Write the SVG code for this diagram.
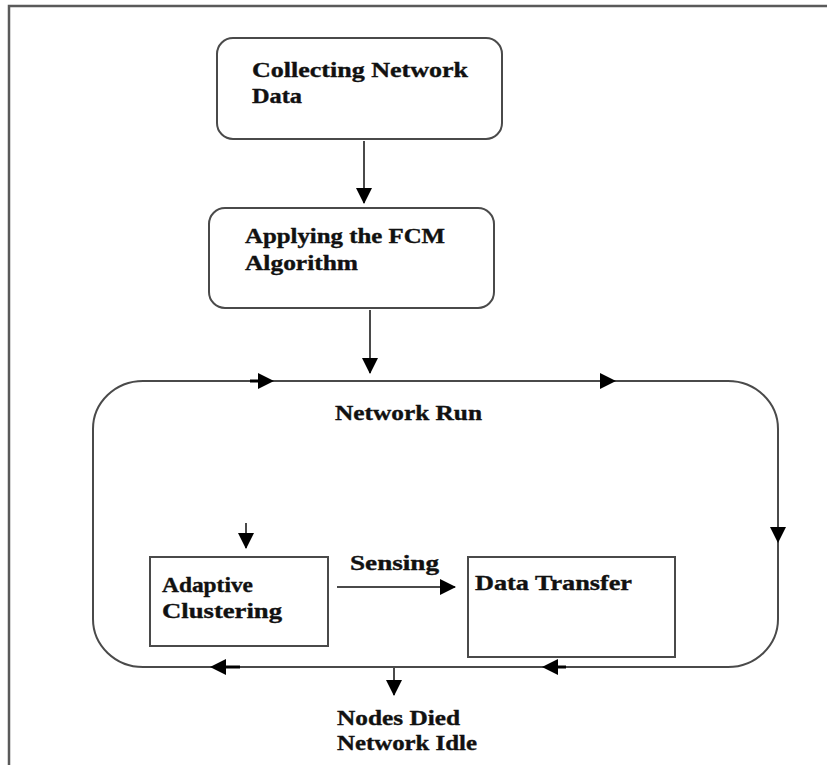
<svg xmlns="http://www.w3.org/2000/svg" width="827" height="765" viewBox="0 0 827 765">
  <style>
    .frame { fill: none; stroke: #5a5a5a; stroke-width: 2.5; }
    .box { fill: #ffffff; stroke: #4a4a4a; stroke-width: 2; }
    .edge { fill: none; stroke: #4a4a4a; stroke-width: 2; }
    .stub { fill: none; stroke: #000000; stroke-width: 3; }
    .head { fill: #000000; stroke: none; }
    .label { font-family: "Liberation Serif", "Times New Roman", serif; font-weight: bold; font-size: 20px; fill: #111111; stroke: #111111; stroke-width: 0.35; }
  </style>
  <defs>
    <marker id="arrow" viewBox="0 0 16 16" refX="15" refY="8" markerWidth="16" markerHeight="16" markerUnits="userSpaceOnUse" orient="auto">
      <path d="M0,0 L16,8 L0,16 Z" fill="#000000"/>
    </marker>
  </defs>

  <rect width="827" height="765" fill="#ffffff"/>

  <!-- page frame: top and left rules -->
  <path class="frame" d="M9,765 L9,6 L827,6"/>

  <!-- network run loop -->
  <g id="network-run">
    <rect class="box" x="93" y="381" width="685" height="286" rx="50" ry="48"/>
    <text class="label" x="335" y="420" textLength="147" lengthAdjust="spacingAndGlyphs">Network Run</text>
  </g>

  <g id="collect">
    <rect class="box" x="217" y="38" width="285" height="101" rx="16"/>
    <text class="label" x="252" y="77" textLength="216" lengthAdjust="spacingAndGlyphs">Collecting Network</text>
    <text class="label" x="252" y="103" textLength="50" lengthAdjust="spacingAndGlyphs">Data</text>
  </g>

  <g id="fcm">
    <rect class="box" x="209" y="208" width="285" height="100" rx="16"/>
    <text class="label" x="245" y="243" textLength="200" lengthAdjust="spacingAndGlyphs">Applying the FCM</text>
    <text class="label" x="245" y="270" textLength="113" lengthAdjust="spacingAndGlyphs">Algorithm</text>
  </g>

  <g id="clustering">
    <rect class="box" x="150" y="557" width="178" height="89"/>
    <text class="label" x="162" y="592" textLength="91" lengthAdjust="spacingAndGlyphs">Adaptive</text>
    <text class="label" x="162" y="618" textLength="120" lengthAdjust="spacingAndGlyphs">Clustering</text>
  </g>

  <g id="transfer">
    <rect class="box" x="468" y="557" width="207" height="100"/>
    <text class="label" x="475" y="590" textLength="157" lengthAdjust="spacingAndGlyphs">Data Transfer</text>
  </g>

  <g id="idle">
    <text class="label" x="337" y="725" textLength="123" lengthAdjust="spacingAndGlyphs">Nodes Died</text>
    <text class="label" x="337" y="750" textLength="140" lengthAdjust="spacingAndGlyphs">Network Idle</text>
  </g>

  <g id="connectors">
    <!-- main flow -->
    <line class="edge" x1="364" y1="141" x2="364" y2="203" marker-end="url(#arrow)"/>
    <line class="edge" x1="370" y1="310" x2="370" y2="373" marker-end="url(#arrow)"/>
    <line class="edge" x1="246" y1="523" x2="246" y2="548" marker-end="url(#arrow)"/>
    <line class="edge" x1="337" y1="587" x2="455" y2="587" marker-end="url(#arrow)"/>
    <text class="label" x="350" y="570" textLength="89" lengthAdjust="spacingAndGlyphs">Sensing</text>
    <line class="edge" x1="394" y1="667" x2="394" y2="695" marker-end="url(#arrow)"/>

    <!-- direction marks around the loop -->
    <line class="stub" x1="250" y1="381" x2="260" y2="381"/>
    <path class="head" d="M258,373 L274,381 L258,389 Z"/>
    <path class="head" d="M600,373 L616,381 L600,389 Z"/>
    <path class="head" d="M770,527 L778,543 L786,527 Z"/>
    <line class="stub" x1="224" y1="667" x2="240" y2="667"/>
    <path class="head" d="M226,659 L210,667 L226,675 Z"/>
    <line class="stub" x1="556" y1="667" x2="566" y2="667"/>
    <path class="head" d="M558,659 L542,667 L558,675 Z"/>
  </g>
</svg>
